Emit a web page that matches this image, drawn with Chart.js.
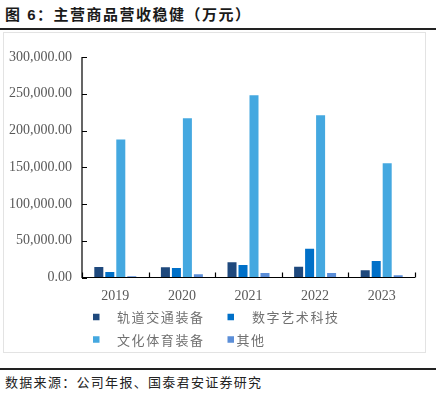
<!DOCTYPE html>
<html>
<head>
<meta charset="utf-8">
<script src="https://cdn.jsdelivr.net/npm/chart.js@4/dist/chart.umd.min.js"></script>
<style>
  html, body { margin: 0; padding: 0; background: #fff; }
  body { width: 442px; height: 395px; position: relative; overflow: hidden; }
  #title { position: absolute; left: 5px; top: 5px; font: bold 15px "Liberation Sans", "Noto Sans CJK SC", sans-serif; letter-spacing: 1.5px; color: #1a1a1a; white-space: nowrap; line-height: 20px; }
  #rule1 { position: absolute; left: 0; top: 28px; width: 436px; height: 2px; background: #222; }
  #box { position: absolute; left: 3px; top: 32px; width: 421px; height: 319px; border: 1px solid #e3e3e3; }
  #wrap { position: absolute; left: 4px; top: 33px; width: 420px; height: 318px; }
  #rule2 { position: absolute; left: 0; top: 368px; width: 436px; height: 1.5px; background: #222; }
  #src { position: absolute; left: 5px; top: 373px; font: 13px "Noto Sans CJK SC", sans-serif; letter-spacing: 1.3px; color: #222; white-space: nowrap; line-height: 17px; }
</style>
</head>
<body>
<div id="title">图 6：主营商品营收稳健（万元）</div>
<div id="rule1"></div>
<div id="box"></div>
<div id="wrap"><canvas id="c" width="420" height="318"></canvas></div>
<div id="rule2"></div>
<div id="src">数据来源：公司年报、国泰君安证券研究</div>
<script>
// ---- data ----
const years = ['2019', '2020', '2021', '2022', '2023'];
const seriesNames = ['轨道交通装备', '数字艺术科技', '文化体育装备', '其他'];
const railEquipment = [14200, 13800, 20600, 14700, 9800];
const digitalArt = [7500, 12900, 17000, 39100, 22400];
const sportsEquipment = [187600, 216500, 248100, 220600, 155400];
const others = [1600, 4300, 6100, 6100, 3000];
const yTicks = [0, 50000, 100000, 150000, 200000, 250000, 300000];

const colors = ['#1f497d', '#0070c8', '#44a8e0', '#5b8ed8'];
const seriesValues = [railEquipment, digitalArt, sportsEquipment, others];

const inwardTicks = {
  id: 'inwardTicks',
  afterDatasetsDraw(chart) {
    const ctx = chart.ctx;
    const x = chart.scales.x, y = chart.scales.y;
    const area = chart.chartArea;
    ctx.save();
    ctx.strokeStyle = '#000';
    ctx.lineWidth = 1.2;
    ctx.beginPath();
    ctx.moveTo(area.left, area.top);
    ctx.lineTo(area.left, area.bottom);
    ctx.lineTo(area.right, area.bottom);
    yTicks.forEach(v => {
      const py = Math.round(y.getPixelForValue(v)) + 0.5;
      ctx.moveTo(area.left, py);
      ctx.lineTo(area.left + 5, py);
    });
    for (let i = 0; i <= years.length; i++) {
      const px = Math.round(x.getPixelForTick(0) + (i - 0.5) * (x.getPixelForTick(1) - x.getPixelForTick(0))) + 0.5;
      ctx.moveTo(px, area.bottom);
      ctx.lineTo(px, area.bottom - 5);
    }
    ctx.stroke();
    ctx.restore();
  }
};

const customLegend = {
  id: 'customLegend',
  afterDraw(chart) {
    const ctx = chart.ctx;
    const items = [
      { sx: 89, tx: 113, y: 284 },
      { sx: 223.5, tx: 248, y: 284 },
      { sx: 89, tx: 113, y: 306.5 },
      { sx: 223.5, tx: 232.5, y: 306.5 }
    ];
    ctx.save();
    ctx.font = '13px "Noto Sans CJK SC", sans-serif';
    ctx.letterSpacing = '1.6px';
    ctx.textBaseline = 'middle';
    ctx.textAlign = 'left';
    items.forEach((it, i) => {
      ctx.fillStyle = colors[i];
      ctx.fillRect(it.sx, it.y - 3.25, 6.5, 6.5);
      ctx.fillStyle = '#707070';
      ctx.fillText(seriesNames[i], it.tx, it.y + 0.5);
    });
    ctx.restore();
  }
};

new Chart(document.getElementById('c'), {
  type: 'bar',
  data: {
    labels: years,
    datasets: seriesNames.map((name, i) => ({
      label: name,
      data: seriesValues[i],
      backgroundColor: colors[i],
      borderWidth: 0,
      categoryPercentage: 0.66,
      barPercentage: 0.82
    }))
  },
  options: {
    responsive: false,
    animation: false,
    devicePixelRatio: 1,
    layout: { padding: { left: 0, right: 9, top: 24, bottom: 0 } },
    plugins: { legend: { display: false }, tooltip: { enabled: false }, title: { display: false } },
    scales: {
      x: {
        grid: { display: false, drawTicks: false },
        border: { display: false },
        ticks: { color: '#595959', font: { family: '"Liberation Serif", serif', size: 14 }, padding: 10 },
        afterFit(scale) { scale.height = 73.5; }
      },
      y: {
        min: 0, max: 300000,
        grid: { display: false, drawTicks: false },
        border: { display: false },
        ticks: {
          stepSize: 50000,
          color: '#595959',
          font: { family: '"Liberation Serif", serif', size: 14 },
          padding: 10,
          callback: v => Number(v).toLocaleString('en-US', { minimumFractionDigits: 2, maximumFractionDigits: 2 })
        },
        afterFit(scale) { scale.width = 78; }
      }
    }
  },
  plugins: [inwardTicks, customLegend]
});
</script>
</body>
</html>
